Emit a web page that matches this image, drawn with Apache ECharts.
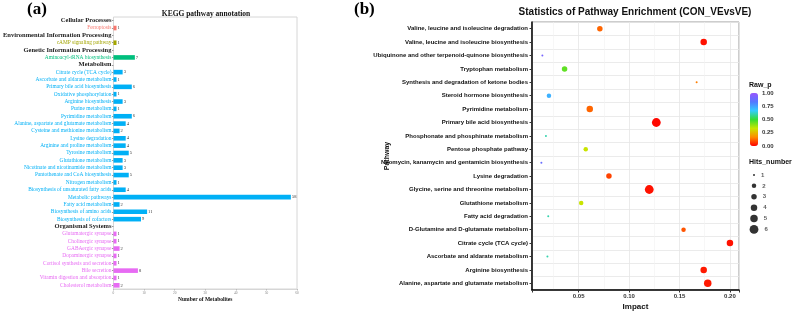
<!DOCTYPE html>
<html>
<head>
<meta charset="utf-8">
<script src="https://cdn.jsdelivr.net/npm/echarts@6/dist/echarts.min.js"></script>
<style>
  html, body { margin: 0; padding: 0; background: #fff; }
  #main { width: 796px; height: 316px; }
</style>
</head>
<body>
<div id="main"></div>
<script>
// ---- panel (a): KEGG pathway annotation ----
const groupNames = ['Cellular Processes', 'Environmental Information Processing', 'Genetic Information Processing', 'Metabolism', 'Organismal Systems'];
const groupColors = ['#F8766D', '#A3A500', '#00BF7D', '#00B0F6', '#E76BF3'];

const cellularPaths = ['Ferroptosis'];
const cellularCounts = [1];
const environmentalPaths = ['cAMP signaling pathway'];
const environmentalCounts = [1];
const geneticPaths = ['Aminoacyl-tRNA biosynthesis'];
const geneticCounts = [7];
const metabolismPaths = [
  'Citrate cycle (TCA cycle)', 'Ascorbate and aldarate metabolism', 'Primary bile acid biosynthesis',
  'Oxidative phosphorylation', 'Arginine biosynthesis', 'Purine metabolism', 'Pyrimidine metabolism',
  'Alanine, aspartate and glutamate metabolism', 'Cysteine and methionine metabolism', 'Lysine degradation',
  'Arginine and proline metabolism', 'Tyrosine metabolism', 'Glutathione metabolism',
  'Nicotinate and nicotinamide metabolism', 'Pantothenate and CoA biosynthesis', 'Nitrogen metabolism',
  'Biosynthesis of unsaturated fatty acids', 'Metabolic pathways', 'Fatty acid metabolism',
  'Biosynthesis of amino acids', 'Biosynthesis of cofactors'
];
const metabolismCounts = [3, 1, 6, 1, 3, 1, 6, 4, 2, 4, 4, 5, 3, 3, 5, 1, 4, 58, 2, 11, 9];
const organismalPaths = [
  'Glutamatergic synapse', 'Cholinergic synapse', 'GABAergic synapse', 'Dopaminergic synapse',
  'Cortisol synthesis and secretion', 'Bile secretion', 'Vitamin digestion and absorption', 'Cholesterol metabolism'
];
const organismalCounts = [1, 1, 2, 1, 1, 8, 1, 2];
const countTicks = [0, 10, 20, 30, 40, 50, 60];

// ---- panel (b): pathway enrichment ----
const pathways = [
  'Valine, leucine and isoleucine degradation', 'Valine, leucine and isoleucine biosynthesis',
  'Ubiquinone and other terpenoid-quinone biosynthesis', 'Tryptophan metabolism',
  'Synthesis and degradation of ketone bodies', 'Steroid hormone biosynthesis', 'Pyrimidine metabolism',
  'Primary bile acid biosynthesis', 'Phosphonate and phosphinate metabolism', 'Pentose phosphate pathway',
  'Neomycin, kanamycin and gentamicin biosynthesis', 'Lysine degradation',
  'Glycine, serine and threonine metabolism', 'Glutathione metabolism', 'Fatty acid degradation',
  'D-Glutamine and D-glutamate metabolism', 'Citrate cycle (TCA cycle)', 'Ascorbate and aldarate metabolism',
  'Arginine biosynthesis', 'Alanine, aspartate and glutamate metabolism'
];
const impact = [0.071, 0.174, 0.014, 0.036, 0.167, 0.0205, 0.061, 0.127, 0.0175, 0.057,
                0.013, 0.080, 0.120, 0.0525, 0.0198, 0.154, 0.200, 0.019, 0.174, 0.178];
const rawP = [0.12, 0.02, 0.92, 0.45, 0.15, 0.72, 0.12, 0.01, 0.6, 0.33,
              0.88, 0.08, 0.02, 0.33, 0.6, 0.1, 0.02, 0.6, 0.03, 0.03];
const hits = [3, 4, 1, 3, 1, 2, 4, 6, 1, 2, 1, 3, 6, 2, 1, 2, 4, 1, 4, 5];
const hitLevels = [1, 2, 3, 4, 5, 6];
const pTicks = [0, 0.25, 0.5, 0.75, 1];

const sizeByHits = [2, 4.5, 5.5, 6.5, 7.5, 8.8];

// build the rows of panel (a): a header row per group, then its pathways
const groups = [
  [cellularPaths, cellularCounts], [environmentalPaths, environmentalCounts],
  [geneticPaths, geneticCounts], [metabolismPaths, metabolismCounts], [organismalPaths, organismalCounts]
];
const rowNames = [], rowData = [], rowKind = [];
groups.forEach(function (g, gi) {
  rowNames.push(groupNames[gi]); rowData.push('-'); rowKind.push('h');
  g[0].forEach(function (p, i) {
    rowNames.push(p);
    rowData.push({ value: g[1][i], itemStyle: { color: groupColors[gi] } });
    rowKind.push('g' + gi);
  });
});

const richA = { h: { fontFamily: 'Liberation Serif', fontWeight: 'bold', fontSize: 6.5, color: '#222' } };
groupColors.forEach(function (c, i) {
  richA['g' + i] = { fontFamily: 'Liberation Serif', fontSize: 5.4, color: c };
});

const serif = 'Liberation Serif';
const sans = 'Liberation Sans';
const chart = echarts.init(document.getElementById('main'), null, { renderer: 'canvas' });

chart.setOption({
  animation: false,
  backgroundColor: '#fff',
  title: [
    { text: '(a)', left: 27, top: 1, padding: 0, textStyle: { fontFamily: serif, fontWeight: 'bold', fontSize: 17, color: '#000' } },
    { text: '(b)', left: 354, top: 1, padding: 0, textStyle: { fontFamily: serif, fontWeight: 'bold', fontSize: 17, color: '#000' } },
    { text: 'KEGG pathway annotation', left: 206, top: 10, padding: 0, textAlign: 'center',
      textStyle: { fontFamily: serif, fontWeight: 'bold', fontSize: 7.5, color: '#111' } },
    { text: 'Statistics of Pathway Enrichment (CON_VEvsVE)', left: 635, top: 7, padding: 0, textAlign: 'center',
      textStyle: { fontFamily: sans, fontWeight: 'bold', fontSize: 10, color: '#111' } },
    { text: 'Raw_p', left: 749, top: 82, padding: 0, textStyle: { fontFamily: sans, fontWeight: 'bold', fontSize: 7, color: '#111' } },
    { text: 'Hits_number', left: 749, top: 159, padding: 0, textStyle: { fontFamily: sans, fontWeight: 'bold', fontSize: 7, color: '#111' } }
  ],
  grid: [
    { left: 112, right: 499, top: 17, bottom: 27, show: true, borderColor: '#d6d6d6', borderWidth: 1 },
    { left: 532, right: 57, top: 22, bottom: 21, show: true, borderColor: '#9a9a9a', borderWidth: 1 },
    { left: 750, width: 8, top: 169.5, height: 65.4 },
    { left: 750, width: 8, top: 93, height: 53 }
  ],
  xAxis: [
    {
      gridIndex: 0, type: 'value', min: countTicks[0], max: countTicks[countTicks.length - 1], interval: 10,
      name: 'Number of Metabolites', nameLocation: 'middle', nameGap: 8, nameMoveOverlap: false,
      nameTextStyle: { fontFamily: serif, fontWeight: 'bold', fontSize: 5.5, color: '#111' },
      axisLine: { show: true, lineStyle: { color: '#d6d6d6', width: 1 } },
      axisTick: { show: true, length: 1.5, lineStyle: { color: '#bbb' } },
      axisLabel: { fontFamily: serif, fontSize: 3.5, color: '#888', margin: 2 },
      splitLine: { show: false }
    },
    {
      gridIndex: 1, type: 'value', min: 0.0037, max: 0.209,
      name: 'Impact', nameLocation: 'middle', nameGap: 13, nameMoveOverlap: false,
      nameTextStyle: { fontFamily: sans, fontWeight: 'bold', fontSize: 8, color: '#111' },
      axisLine: { show: true, onZero: false, lineStyle: { color: '#000', width: 1.5 } },
      axisTick: { show: true, length: 2.5, lineStyle: { color: '#333' } },
      axisLabel: {
        fontFamily: sans, fontWeight: 'bold', fontSize: 6, color: '#333', margin: 3,
        formatter: function (v) { return Math.abs(v * 20 - Math.round(v * 20)) < 1e-6 ? v.toFixed(2) : ''; }
      },
      splitLine: { show: true, lineStyle: { color: '#e6e6e6', width: 0.8 } },
      minorTick: { show: false, splitNumber: 2 },
      minorSplitLine: { show: true, lineStyle: { color: '#f2f2f2', width: 0.6 } }
    },
    { gridIndex: 2, type: 'value', min: -1, max: 1, show: false },
    { gridIndex: 3, type: 'value', min: 0, max: 1, show: false }
  ],
  yAxis: [
    {
      gridIndex: 0, type: 'category', data: rowNames, inverse: true,
      axisLine: { show: false },
      axisTick: { show: true, length: 1.5, alignWithLabel: true, lineStyle: { color: '#999' } },
      axisLabel: {
        interval: 0, margin: 2,
        formatter: function (v, idx) { return '{' + rowKind[idx] + '|' + v + '}'; },
        rich: richA
      },
      splitLine: { show: false }
    },
    {
      gridIndex: 1, type: 'category', data: pathways, inverse: true,
      name: 'Pathway', nameLocation: 'middle', nameGap: 141, nameRotate: 90, nameMoveOverlap: false,
      nameTextStyle: { fontFamily: sans, fontWeight: 'bold', fontSize: 7, color: '#111' },
      axisLine: { show: true, lineStyle: { color: '#000', width: 1.5 } },
      axisTick: { show: true, length: 2.5, alignWithLabel: true, lineStyle: { color: '#333' } },
      axisLabel: { interval: 0, fontFamily: sans, fontWeight: 'bold', fontSize: 6, color: '#111', margin: 4 },
      splitLine: { show: true, interval: 0, lineStyle: { color: '#e6e6e6', width: 0.8 } }
    },
    { gridIndex: 2, type: 'category', data: hitLevels.map(String), inverse: true, show: false },
    {
      gridIndex: 3, type: 'value', min: pTicks[0], max: pTicks[pTicks.length - 1], interval: 0.25, position: 'right',
      axisLine: { show: false }, axisTick: { show: false }, splitLine: { show: false },
      axisLabel: {
        fontFamily: sans, fontWeight: 'bold', fontSize: 6, color: '#333', margin: 4,
        formatter: function (v) { return v.toFixed(2); }
      }
    }
  ],
  visualMap: [{
    type: 'continuous', seriesIndex: 1, dimension: 2, min: 0, max: 1,
    left: 750, top: 93, itemWidth: 8, itemHeight: 53, padding: 0,
    calculable: false, text: null, showLabel: false, hoverLink: false,
    inRange: { color: ['#FF0000', '#FF8C00', '#C8E600', '#33DD33', '#33CCFF', '#5577FF', '#9955FF'] }
  }],
  series: [
    {
      type: 'bar', xAxisIndex: 0, yAxisIndex: 0, data: rowData, barWidth: 4.6,
      label: { show: true, position: 'right', distance: 1, fontFamily: serif, fontSize: 4.5, color: '#333' }
    },
    {
      type: 'scatter', xAxisIndex: 1, yAxisIndex: 1,
      data: pathways.map(function (p, i) { return [impact[i], p, rawP[i], hits[i]]; }),
      symbolSize: function (val) { return sizeByHits[val[3] - 1]; },
      itemStyle: { opacity: 1 }
    },
    {
      type: 'scatter', xAxisIndex: 2, yAxisIndex: 2,
      data: hitLevels.map(function (h) { return [0, String(h)]; }),
      symbolSize: function (val) { return sizeByHits[Number(val[1]) - 1]; },
      itemStyle: { color: '#000' },
      label: {
        show: true, position: 'right', distance: 6, fontFamily: sans, fontWeight: 'bold', fontSize: 6, color: '#333',
        formatter: function (p) { return p.value[1]; }
      }
    }
  ]
});
</script>
</body>
</html>
